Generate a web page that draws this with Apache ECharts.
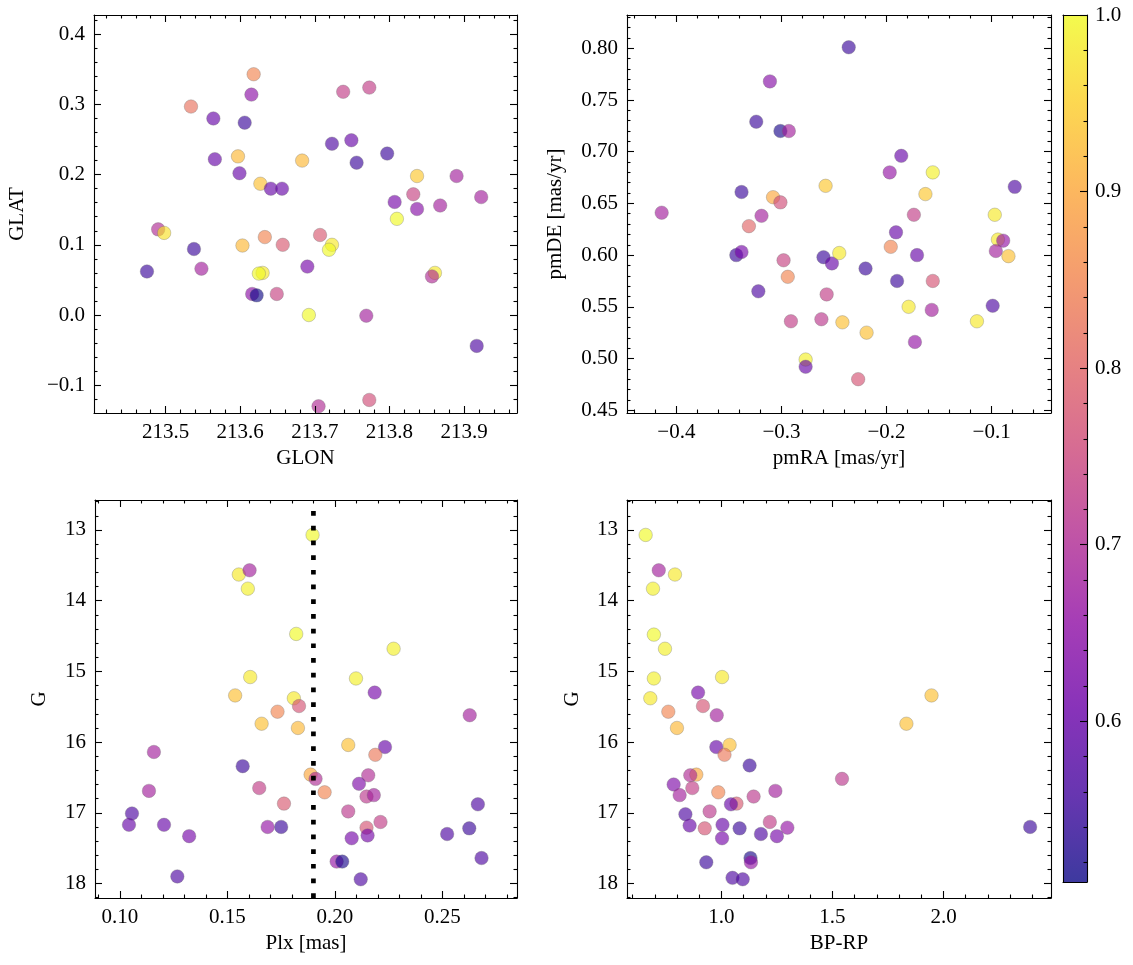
<!DOCTYPE html>
<html><head><meta charset="utf-8">
<script src="https://cdn.jsdelivr.net/npm/echarts@6/dist/echarts.min.js"></script>
<style>html,body{margin:0;padding:0;background:#fff}#c{width:1133px;height:965px}</style>
</head><body><div id="c"></div>
<script>
// [GLON, GLAT, probability]
const panelPos = [
[213.618,0.343,0.85],[213.615,0.314,0.65],[213.534,0.297,0.82],[213.564,0.280,0.60],[213.606,0.274,0.55],
[213.566,0.222,0.60],[213.597,0.226,0.92],[213.599,0.202,0.60],[213.627,0.187,0.93],[213.641,0.180,0.60],
[213.656,0.180,0.60],[213.683,0.220,0.92],[213.490,0.122,0.70],[213.498,0.117,0.97],[213.538,0.094,0.55],
[213.475,0.062,0.55],[213.548,0.066,0.68],[213.603,0.099,0.92],[213.633,0.111,0.85],[213.657,0.100,0.78],
[213.630,0.060,0.98],[213.625,0.059,1.00],[213.616,0.030,0.65],[213.622,0.028,0.51],[213.649,0.030,0.74],
[213.690,0.069,0.62],[213.692,0.000,1.00],[213.738,0.318,0.73],[213.773,0.324,0.73],[213.723,0.244,0.57],
[213.749,0.249,0.60],[213.756,0.217,0.55],[213.797,0.230,0.55],[213.837,0.198,0.94],[213.890,0.198,0.68],
[213.832,0.172,0.74],[213.807,0.161,0.62],[213.837,0.151,0.64],[213.868,0.156,0.68],[213.923,0.168,0.68],
[213.810,0.137,1.00],[213.707,0.114,0.78],[213.723,0.100,0.98],[213.719,0.093,1.00],[213.861,0.060,0.98],
[213.857,0.055,0.70],[213.769,-0.001,0.68],[213.917,-0.044,0.57],[213.705,-0.130,0.70],[213.773,-0.121,0.76]
];
// [pmRA, pmDE, probability]
const panelPM = [
[-0.311,0.768,0.64],[-0.324,0.729,0.55],[-0.301,0.720,0.52],[-0.293,0.720,0.68],[-0.338,0.661,0.55],
[-0.308,0.656,0.90],[-0.301,0.651,0.76],[-0.414,0.641,0.68],[-0.319,0.638,0.68],[-0.331,0.628,0.80],
[-0.343,0.600,0.55],[-0.338,0.603,0.62],[-0.298,0.595,0.74],[-0.294,0.579,0.85],[-0.322,0.565,0.57],
[-0.291,0.536,0.73],[-0.277,0.499,0.99],[-0.277,0.492,0.60],[-0.260,0.598,0.55],[-0.262,0.538,0.72],
[-0.236,0.801,0.55],[-0.258,0.667,0.94],[-0.252,0.592,0.60],[-0.245,0.602,0.98],[-0.220,0.587,0.55],
[-0.257,0.562,0.73],[-0.242,0.535,0.93],[-0.219,0.525,0.93],[-0.227,0.480,0.77],[-0.186,0.696,0.60],
[-0.197,0.680,0.66],[-0.156,0.680,0.99],[-0.163,0.659,0.94],[-0.174,0.639,0.73],[-0.191,0.622,0.60],
[-0.196,0.608,0.85],[-0.171,0.600,0.60],[-0.190,0.575,0.55],[-0.156,0.575,0.77],[-0.179,0.550,0.98],
[-0.157,0.547,0.68],[-0.173,0.516,0.66],[-0.078,0.666,0.57],[-0.097,0.639,0.98],[-0.094,0.615,0.98],
[-0.089,0.614,0.66],[-0.096,0.604,0.68],[-0.084,0.599,0.93],[-0.099,0.551,0.57],[-0.114,0.536,0.98]
];
// [Plx, G, probability]
const panelPlx = [
[0.1553,13.63,0.98],[0.1603,13.57,0.68],[0.1595,13.83,0.99],[0.1820,14.47,1.00],[0.1606,15.08,0.98],
[0.1536,15.34,0.93],[0.1809,15.38,0.98],[0.1833,15.49,0.77],[0.1733,15.57,0.85],[0.1659,15.74,0.93],
[0.1828,15.80,0.92],[0.1158,16.14,0.68],[0.1571,16.34,0.55],[0.1135,16.69,0.68],[0.1648,16.65,0.73],
[0.1763,16.87,0.78],[0.1056,17.01,0.57],[0.1042,17.17,0.60],[0.1205,17.17,0.60],[0.1322,17.33,0.62],
[0.1687,17.20,0.66],[0.1750,17.20,0.55],[0.1267,17.90,0.57],[0.1887,16.46,0.90],[0.1896,13.07,1.00],
[0.2273,14.68,0.99],[0.2098,15.10,0.99],[0.2185,15.30,0.62],[0.2627,15.62,0.68],[0.2062,16.04,0.93],
[0.2233,16.07,0.60],[0.2188,16.18,0.83],[0.1910,16.52,0.70],[0.1952,16.71,0.85],[0.2155,16.47,0.70],
[0.2112,16.59,0.63],[0.2147,16.77,0.72],[0.2181,16.75,0.68],[0.2062,16.98,0.72],[0.2212,17.13,0.73],
[0.2147,17.21,0.77],[0.2152,17.32,0.62],[0.2078,17.36,0.62],[0.2665,16.88,0.57],[0.2625,17.22,0.55],
[0.2522,17.30,0.57],[0.2682,17.64,0.57],[0.2008,17.69,0.66],[0.2034,17.69,0.52],[0.2120,17.94,0.57]
];
// [BP-RP, G, probability]
const panelCMD = [
[0.659,13.07,1.00],[0.718,13.57,0.68],[0.791,13.63,0.98],[0.692,13.83,0.99],[0.696,14.48,1.00],
[0.746,14.68,0.99],[0.696,15.10,0.99],[1.003,15.08,0.98],[0.680,15.38,0.98],[0.895,15.30,0.62],
[0.917,15.49,0.77],[0.761,15.57,0.85],[0.979,15.62,0.68],[0.800,15.80,0.92],[1.037,16.04,0.93],
[0.977,16.07,0.60],[1.014,16.18,0.83],[1.127,16.33,0.55],[0.887,16.46,0.90],[0.860,16.47,0.70],
[0.785,16.60,0.63],[0.869,16.65,0.73],[0.812,16.75,0.68],[0.986,16.71,0.85],[1.243,16.69,0.68],
[1.145,16.77,0.72],[1.068,16.87,0.78],[1.043,16.88,0.60],[0.838,17.02,0.57],[0.947,16.98,0.72],
[0.857,17.18,0.60],[0.925,17.22,0.77],[1.005,17.17,0.60],[1.082,17.22,0.55],[1.218,17.13,0.73],
[1.003,17.36,0.62],[1.178,17.30,0.57],[1.250,17.33,0.62],[1.297,17.21,0.66],[0.932,17.70,0.55],
[1.131,17.64,0.52],[1.133,17.70,0.66],[1.050,17.92,0.57],[1.096,17.94,0.57],[1.946,15.34,0.93],
[1.833,15.74,0.93],[1.543,16.52,0.72],[2.390,17.20,0.55]
];
const plxCut = 0.19;
const probMin = 0.509, probMax = 1.0;

const ticksGLON = [213.5, 213.6, 213.7, 213.8, 213.9];
const ticksGLAT = [-0.1, 0.0, 0.1, 0.2, 0.3, 0.4];
const ticksPMRA = [-0.4, -0.3, -0.2, -0.1];
const ticksPMDE = [0.45, 0.50, 0.55, 0.60, 0.65, 0.70, 0.75, 0.80];
const ticksPLX = [0.10, 0.15, 0.20, 0.25];
const ticksG = [13, 14, 15, 16, 17, 18];
const ticksBPRP = [1.0, 1.5, 2.0];
const ticksProb = [0.6, 0.7, 0.8, 0.9, 1.0];

const plasma = ['#0d0887','#41049d','#6a00a8','#8f0da4','#b12a90','#cc4778','#e16462','#f2844b','#fca636','#fcce25','#f0f921'];
const alpha = 0.8;
function rgba(h){const r=parseInt(h.slice(1,3),16),g=parseInt(h.slice(3,5),16),b=parseInt(h.slice(5,7),16);return `rgba(${r},${g},${b},${alpha})`;}

const FONT = 'Liberation Serif';
const FS = 21;
function minorTicks(min, max, step, majors){
  const out=[]; const k0=Math.ceil(min/step-1e-9), k1=Math.floor(max/step+1e-9);
  for(let k=k0;k<=k1;k++){const v=+(k*step).toFixed(6); if(!majors.some(m=>Math.abs(m-v)<step*0.01)) out.push(v);}
  return out;
}
const mfmt = d => v => { const s=(+v).toFixed(d); return s.replace('-', '\u2212'); };

const grids=[], xAxes=[], yAxes=[], series=[];
const lineStyle={color:'#000',width:1.1};
function axisSet(dim, g, c){
  const arr = dim==='x'?xAxes:yAxes;
  const start = arr.length;
  const sides = dim==='x'?['bottom','top']:['left','right'];
  const minors = c.majors ? minorTicks(c.min,c.max,c.minorStep,c.majors) : [];
  sides.forEach((side,si)=>{
    const labelSide = (c.labelSide||sides[0])===side;
    const base = {gridIndex:g,type:'value',min:c.min,max:c.max,position:side,inverse:!!c.inverse,splitLine:{show:false},
      axisPointer:{show:false},scale:true,z:5};
    arr.push(Object.assign({},base,{
      axisLine:{show:true,onZero:false,lineStyle},
      axisTick:{show:!!c.majors && (c.ticksBoth!==false || labelSide),inside:true,length:7,customValues:c.majors||[],lineStyle},
      axisLabel:{show:labelSide && !!c.majors,customValues:c.majors||[],formatter:c.fmt,margin:c.margin||9,color:'#000',fontFamily:FONT,fontSize:FS},
      name: labelSide? c.name : '', nameLocation:'middle', nameGap:c.nameGap,
      nameTextStyle:{color:'#000',fontFamily:FONT,fontSize:FS}
    }));
    arr.push(Object.assign({},base,{
      axisLine:{show:false,onZero:false},
      axisTick:{show:minors.length>0 && (c.ticksBoth!==false || labelSide),inside:true,length:3.5,customValues:minors,lineStyle},
      axisLabel:{show:false}
    }));
  });
  return start;
}
function panel(g, rect, xc, yc, data){
  grids.push(Object.assign({containLabel:false},rect));
  const xi = axisSet('x', g, xc);
  const yi = axisSet('y', g, yc);
  series.push({type:'scatter',xAxisIndex:xi,yAxisIndex:yi,data:data,symbolSize:13.5,
    itemStyle:{borderColor:'rgba(110,110,110,0.8)',borderWidth:0.5},emphasis:{disabled:true},z:2});
  return {xi, yi};
}

panel(0,{left:94,top:15,width:423,height:398},
  {min:213.404,max:213.971,majors:ticksGLON,minorStep:0.02,fmt:mfmt(1),name:'GLON',nameGap:35},
  {min:-0.1396,max:0.4274,majors:ticksGLAT,minorStep:0.02,fmt:mfmt(1),name:'GLAT',nameGap:66},
  panelPos);
panel(1,{left:627,top:15,width:424,height:398},
  {min:-0.447,max:-0.0435,majors:ticksPMRA,minorStep:0.02,fmt:mfmt(1),name:'pmRA [mas/yr]',nameGap:35},
  {min:0.4473,max:0.8322,majors:ticksPMDE,minorStep:0.01,fmt:mfmt(2),name:'pmDE [mas/yr]',nameGap:61},
  panelPM);
const pBL = panel(2,{left:95,top:500,width:422,height:398},
  {min:0.0884,max:0.2847,majors:ticksPLX,minorStep:0.01,fmt:mfmt(2),name:'Plx [mas]',nameGap:35},
  {min:12.576,max:18.205,majors:ticksG,minorStep:0.2,fmt:mfmt(0),name:'G',nameGap:45,inverse:true},
  panelPlx);
panel(3,{left:627,top:500,width:424,height:398},
  {min:0.575,max:2.484,majors:ticksBPRP,minorStep:0.1,fmt:mfmt(1),name:'BP-RP',nameGap:35},
  {min:12.576,max:18.205,majors:ticksG,minorStep:0.2,fmt:mfmt(0),name:'G',nameGap:44,inverse:true},
  panelCMD);

// threshold line in Plx panel
series.push({type:'line',xAxisIndex:pBL.xi,yAxisIndex:pBL.yi,data:[[plxCut,18.205],[plxCut,12.576]],
  symbol:'none',silent:true,z:5,lineStyle:{color:'#000',width:4.7,type:[4.7,10],cap:'butt'}});

// colorbar frame and ticks
const cb = {left:1063,top:15,width:24,height:867};
grids.push(cb);
axisSet('x',4,{min:0,max:1});
axisSet('y',4,{min:probMin,max:probMax,majors:ticksProb,minorStep:0.02,fmt:mfmt(1),labelSide:'right',ticksBoth:false,margin:8});

const gradStops = plasma.map((c,i)=>({offset:1 - i/(plasma.length-1), color:rgba(c)})).reverse();

const option = {
  animation:false,
  backgroundColor:'#fff',
  grid:grids, xAxis:xAxes, yAxis:yAxes, series:series,
  visualMap:[{type:'continuous',show:false,min:probMin,max:probMax,dimension:2,seriesIndex:[0,1,2,3],
    inRange:{color:plasma.map(rgba)}}],
  graphic:[{type:'rect',left:cb.left,top:cb.top,z:-1,silent:true,
    shape:{width:cb.width,height:cb.height},
    style:{fill:new echarts.graphic.LinearGradient(0,0,0,1,gradStops)}}]
};
const chart = echarts.init(document.getElementById('c'),null,{renderer:'canvas',width:1133,height:965});
chart.setOption(option);
</script></body></html>
